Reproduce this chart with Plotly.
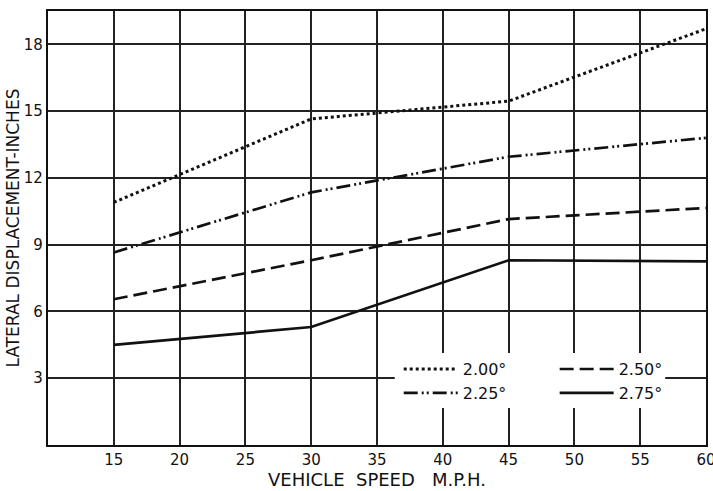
import plotly.graph_objects as go

speed = [15, 30, 45, 60]
disp_200 = [10.9, 14.65, 15.45, 18.7]
disp_225 = [8.65, 11.35, 12.95, 13.8]
disp_250 = [6.55, 8.3, 10.15, 10.65]
disp_275 = [4.5, 5.3, 8.3, 8.25]

x_ticks = [15, 20, 25, 30, 35, 40, 45, 50, 55, 60]
y_ticks = [3, 6, 9, 12, 15, 18]

series = [
    ("2.00°", disp_200, "dot", 3, "legend"),
    ("2.25°", disp_225, "14px,4px,2px,3px,2px,4px", 2.7, "legend"),
    ("2.50°", disp_250, "14px,6px", 2.7, "legend2"),
    ("2.75°", disp_275, "solid", 2.7, "legend2"),
]

fig = go.Figure()
for name, vals, dash, w, lg in series:
    fig.add_trace(go.Scatter(
        x=speed, y=vals, mode="lines", name=name,
        line=dict(color="#111111", width=w, dash=dash),
        legend=lg, legendgroup=name,
    ))

font_family = "DejaVu Sans, Arial, sans-serif"

legend_common = dict(yanchor="top", xanchor="left", y=0.214,
                     bgcolor="rgba(0,0,0,0)", borderwidth=0,
                     font=dict(size=16), tracegroupgap=0, itemwidth=54)

fig.update_layout(
    width=713, height=491,
    margin=dict(l=48, r=7, t=11, b=46),
    paper_bgcolor="white", plot_bgcolor="white",
    font=dict(family=font_family, color="#111111", size=13),
    legend=dict(x=0.533, **legend_common),
    legend2=dict(x=0.77, **legend_common),
    shapes=[dict(type="rect", xref="paper", yref="paper",
                 x0=0.527, x1=0.938, y0=0.085, y1=0.212,
                 fillcolor="white", line=dict(width=0), layer="above")],
    xaxis=dict(range=[10, 60], tickvals=x_ticks, ticktext=[str(v) for v in x_ticks],
               showgrid=True, gridcolor="#222222", gridwidth=1.8,
               showline=True, linecolor="#111111", linewidth=2.2, mirror=True,
               ticks="", zeroline=False, tickfont=dict(size=15), automargin=False,
               ticklabeloverflow="allow",
               title=dict(text="VEHICLE  SPEED   M.P.H.", font=dict(size=18), standoff=5)),
    yaxis=dict(range=[0, 19.5], tickvals=y_ticks, ticktext=[str(v) for v in y_ticks],
               showgrid=True, gridcolor="#222222", gridwidth=1.8,
               showline=True, linecolor="#111111", linewidth=2.2, mirror=True,
               ticks="", zeroline=False, tickfont=dict(size=15), automargin=False,
               ticklabeloverflow="allow",
               title=dict(text="LATERAL DISPLACEMENT-INCHES", font=dict(size=17), standoff=0)),
    showlegend=True,
)

fig.write_html("out.html")
